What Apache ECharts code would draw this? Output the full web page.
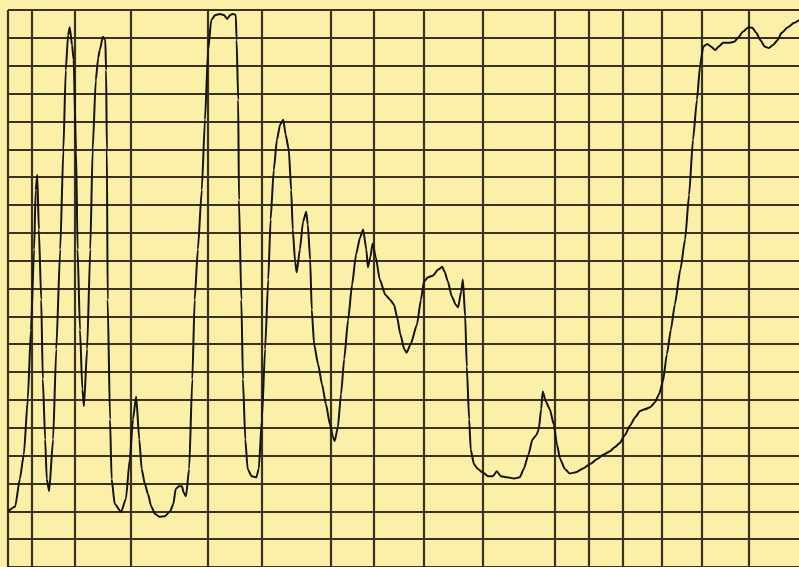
<!DOCTYPE html>
<html>
<head>
<meta charset="utf-8">
<script src="https://cdn.jsdelivr.net/npm/echarts@6/dist/echarts.min.js"></script>
<style>
html,body{margin:0;padding:0;background:#fcefa7;}
#chart{width:799px;height:567px;}
</style>
</head>
<body>
<div id="chart"></div>
<script>
// Position along the chart paper (0–100 % of width) and % transmittance (0–100)
const positions = [0,0.9,1.5,2.0,2.5,2.9,3.3,3.5,3.7,3.9,4.2,4.4,4.7,4.9,5.2,5.7,6.1,6.6,7.0,7.3,7.6,7.8,8.1,8.3,8.6,8.8,9.1,9.4,9.6,10.0,10.4,10.7,11.1,11.4,11.6,12.0,12.3,12.4,12.5,12.6,12.9,13.1,13.5,14.3,14.9,15.4,15.8,16.2,16.6,16.9,17.3,17.7,18.1,18.6,19.2,19.8,20.5,20.9,21.2,21.6,22.0,22.2,22.5,22.9,23.3,23.6,24.0,24.5,24.9,25.3,25.7,26.2,26.8,27.3,27.7,28.1,28.4,28.8,28.9,29.1,29.2,29.5,29.7,30.0,30.3,30.8,31.4,31.7,32.1,32.5,32.9,33.2,33.6,34.0,34.4,34.8,35.1,35.5,35.8,36.0,36.3,36.5,36.9,37.3,37.7,37.9,38.2,38.4,38.7,39.2,39.7,40.2,40.7,41.1,41.3,41.7,42.1,42.5,43.0,43.5,44.0,44.5,44.9,45.3,45.5,45.8,46.1,46.5,47.0,47.7,48.3,48.8,49.2,49.6,50.1,50.4,50.9,51.7,52.2,52.6,53.1,53.7,54.4,54.9,55.2,55.6,56.1,56.6,56.9,57.3,57.5,57.8,58.0,58.3,58.5,58.9,59.4,60.0,60.7,61.3,61.8,62.3,63.1,64.0,64.7,65.2,65.8,66.3,66.8,67.1,67.4,67.6,68.0,68.5,69.0,69.4,69.8,70.4,71.0,71.8,72.7,73.6,74.5,75.3,76.1,76.7,77.3,78.0,78.6,79.3,79.9,80.5,81.2,81.8,82.3,82.8,83.3,83.8,84.3,85.0,85.6,86.1,86.6,87.1,87.5,87.9,88.4,88.9,89.4,89.9,90.4,91.2,91.8,92.3,92.9,93.6,94.1,94.6,95.1,95.7,96.2,96.7,97.3,97.8,98.6,99.4,100];
const transmittance = [10.0,10.8,15.8,20.2,30.1,42.6,57.0,67.7,70.4,60.6,48.0,33.7,22.9,15.8,13.6,22.9,39.1,57.0,74.9,89.2,95.5,96.9,93.7,91.0,74.9,57.0,42.6,31.9,28.9,39.1,57.0,74.9,87.4,91.4,92.8,95.2,94.6,89.2,74.9,48.0,26.5,15.8,11.3,9.9,12.2,19.4,26.5,30.6,22.9,17.6,14.9,13.1,10.9,9.5,9.0,9.1,10.0,11.3,14.0,14.5,14.5,13.4,12.7,17.6,33.7,48.0,57.0,67.7,80.3,92.8,98.2,99.1,99.3,99.1,98.4,99.1,99.3,99.1,94.6,83.9,65.9,48.0,33.7,22.9,17.6,16.3,16.1,17.6,26.5,39.1,51.6,62.4,71.3,76.7,79.4,80.3,77.6,74.9,67.7,60.6,54.8,52.9,57.0,62.0,63.8,61.5,55.2,46.2,40.0,36.4,32.8,29.2,25.6,23.3,22.6,25.1,31.0,37.3,44.4,50.7,56.1,59.1,60.6,57.0,53.8,55.6,58.1,55.6,51.6,48.9,48.0,47.1,44.8,41.8,39.1,38.5,40.0,43.5,48.0,51.3,52.0,52.3,53.4,53.9,53.0,51.3,48.6,47.1,46.6,49.5,51.6,45.0,36.0,26.5,21.1,18.5,17.6,17.0,16.3,16.3,17.2,16.3,16.1,15.9,16.1,17.6,20.2,22.9,23.7,24.7,28.3,31.5,29.7,28.3,25.6,22.0,19.4,17.6,16.8,17.0,17.7,18.5,19.4,20.2,20.8,21.5,22.2,23.7,25.3,26.9,28.0,28.3,28.7,29.6,31.0,33.3,38.2,42.6,47.1,53.4,58.8,66.8,76.7,83.9,90.1,93.4,93.9,93.4,92.8,93.5,94.1,94.1,94.3,95.0,96.1,96.9,96.8,95.9,94.6,93.4,93.2,93.7,94.6,95.9,96.9,97.7,98.2];
// Irregular vertical rulings of the chart paper (same 0–100 position scale)
const verticalRulings = [0,3.03,8.47,15.55,25.28,32.11,40.83,46.27,52.59,60.05,69.15,73.45,77.75,82.68,87.74,93.68];
const yMin = 0, yMax = 100, yStep = 5;

const chart = echarts.init(document.getElementById('chart'), null, {renderer:'canvas'});
const gridColor = '#3a3322';
chart.setOption({
  backgroundColor: '#fcefa7',
  animation: false,
  grid: {left: 8, right: 0, top: 10, bottom: -1, containLabel: false},
  xAxis: {
    type: 'value', min: 0, max: 100,
    axisLine: {show: false}, axisTick: {show: false}, axisLabel: {show: false},
    splitLine: {show: false}
  },
  yAxis: {
    type: 'value', min: yMin, max: yMax, interval: yStep,
    axisLine: {show: false}, axisTick: {show: false}, axisLabel: {show: false},
    splitLine: {show: true, lineStyle: {color: gridColor, width: 2.2}}
  },
  series: [
    {
      type: 'line',
      data: [],
      silent: true,
      markLine: {
        silent: true, symbol: ['none','none'], label: {show: false},
        lineStyle: {color: gridColor, width: 2.2, type: 'solid'},
        data: verticalRulings.map(v => ({xAxis: v}))
      }
    },
    {
      type: 'line',
      data: positions.map((x, i) => [x, transmittance[i]]),
      showSymbol: false,
      smooth: 0.2,
      smoothMonotone: 'x',
      lineStyle: {color: '#141414', width: 2},
      z: 5
    }
  ]
});
</script>
</body>
</html>
